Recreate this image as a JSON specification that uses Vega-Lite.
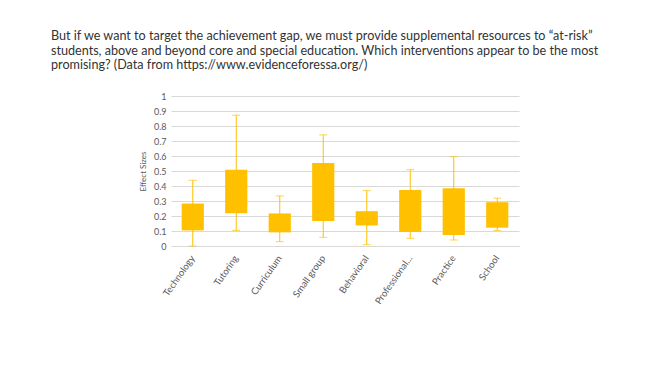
{
  "$schema": "https://vega.github.io/schema/vega-lite/v6.json",
  "width": 348,
  "height": 150,
  "autosize": "none",
  "padding": {"left": 171, "top": 96, "right": 137, "bottom": 123},
  "background": "white",
  "title": {
    "text": ["But if we want to target the achievement gap, we must provide supplemental resources to \u201cat-risk\u201d", "students, above and beyond core and special education. Which interventions appear to be the most", "promising? (Data from https://www.evidenceforessa.org/)"],
    "anchor": "start",
    "frame": "group",
    "dx": -120,
    "offset": 20,
    "font": "Lato",
    "fontSize": 12.6,
    "fontWeight": "normal",
    "color": "#333333",
    "lineHeight": 14.5
  },
  "config": {
    "view": {"stroke": null},
    "axis": {"labelFont": "Lato", "titleFont": "Lato", "labelColor": "#595959", "titleColor": "#595959", "labelOverlap": false},
    "axisY": {"tickCount": 10, "values": [0, 0.1, 0.2, 0.3, 0.4, 0.5, 0.6, 0.7, 0.8, 0.9, 1], "labelExpr": "datum.value == 0 ? '0' : datum.value == 1 ? '1' : format(datum.value, '.1f')", "domain": false, "ticks": false, "gridColor": "#d9d9d9", "labelFontSize": 9, "labelPadding": 5, "titleFontSize": 8, "titleFontWeight": "normal", "titlePadding": 6}
  },
  "data": {
    "values": [
      {"type": "Technology", "min": 0.0, "q1": 0.104, "q3": 0.283, "max": 0.438},
      {"type": "Tutoring", "min": 0.104, "q1": 0.219, "q3": 0.509, "max": 0.872},
      {"type": "Curriculum", "min": 0.029, "q1": 0.091, "q3": 0.217, "max": 0.334},
      {"type": "Small group", "min": 0.058, "q1": 0.166, "q3": 0.553, "max": 0.741},
      {"type": "Behavioral", "min": 0.009, "q1": 0.137, "q3": 0.232, "max": 0.369},
      {"type": "Professional...", "min": 0.051, "q1": 0.093, "q3": 0.374, "max": 0.509},
      {"type": "Practice", "min": 0.04, "q1": 0.073, "q3": 0.385, "max": 0.595},
      {"type": "School", "min": 0.104, "q1": 0.122, "q3": 0.292, "max": 0.319}
    ]
  },
  "encoding": {
    "x": {
      "field": "type", "type": "nominal", "sort": null, "title": null,
      "scale": {"paddingInner": 0.49, "paddingOuter": 0.245},
      "axis": {"labelAngle": -55, "labelFontSize": 9.5, "ticks": false, "domainColor": "#d9d9d9", "labelPadding": 10}
    }
  },
  "layer": [
    {
      "mark": {"type": "rule", "color": "#FFC000", "strokeWidth": 1},
      "encoding": {
        "y": {
          "field": "min", "type": "quantitative",
          "scale": {"domain": [0, 1], "nice": false},
          "title": "Effect Sizes"
        },
        "y2": {"field": "max"}
      }
    },
    {
      "mark": {"type": "tick", "color": "#FFC000", "size": 8, "thickness": 1},
      "encoding": {"y": {"field": "min", "type": "quantitative", "title": "Effect Sizes"}}
    },
    {
      "mark": {"type": "tick", "color": "#FFC000", "size": 8, "thickness": 1},
      "encoding": {"y": {"field": "max", "type": "quantitative", "title": "Effect Sizes"}}
    },
    {
      "mark": {"type": "bar", "color": "#FFC000"},
      "encoding": {
        "y": {"field": "q1", "type": "quantitative", "title": "Effect Sizes"},
        "y2": {"field": "q3"}
      }
    }
  ]
}
